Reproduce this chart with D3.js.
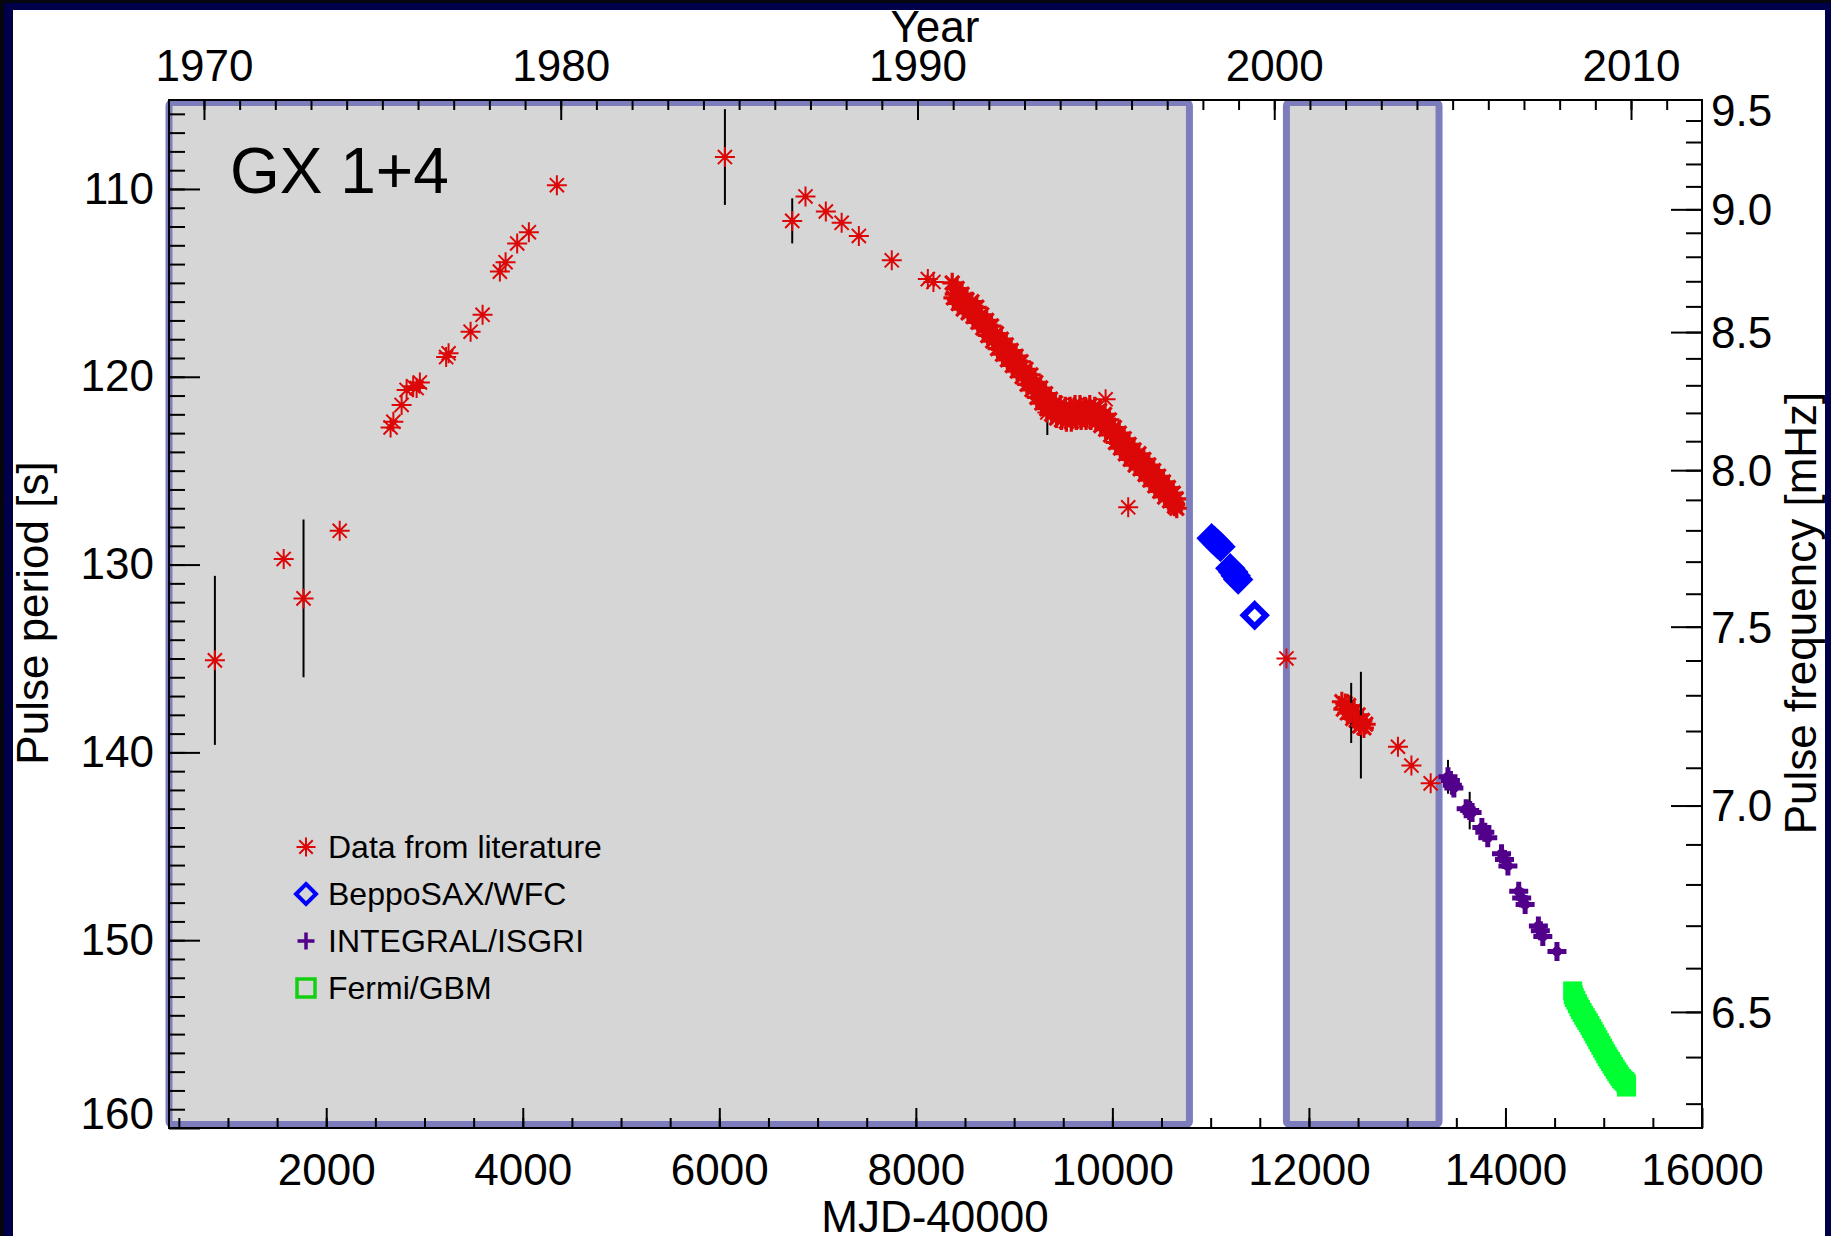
<!DOCTYPE html>
<html>
<head>
<meta charset="utf-8">
<script src="https://cdnjs.cloudflare.com/ajax/libs/d3/7.8.5/d3.min.js"></script>
<style>
body { margin: 0; background: #fff; }
svg { display: block; font-family: "Liberation Sans", Arial, Helvetica, sans-serif; }
</style>
</head>
<body>
<div id="plot"></div>
<script>
// tick values / labels
var periodMajor = [110, 120, 130, 140, 150, 160];
var mjdMajor = [2000, 4000, 6000, 8000, 10000, 12000, 14000, 16000];
var yearMajor = [1970, 1980, 1990, 2000, 2010];
var freqMajor = [9.5, 9.0, 8.5, 8.0, 7.5, 7.0, 6.5];
var legendLabels = ['Data from literature', 'BeppoSAX/WFC', 'INTEGRAL/ISGRI', 'Fermi/GBM'];

// shaded intervals (MJD-40000)
var shadeStart = [400, 11771];
var shadeEnd = [10784, 13324];

// data from literature: [MJD-40000, period (s), error (s)]
var litPoints = [
    [867, 135.1, 4.5], [1567, 129.7, 0], [1769, 131.8, 4.2], [2137, 128.2, 0],
    [2655, 122.7, 0], [2683, 122.4, 0], [2767, 121.5, 0], [2818, 120.7, 0],
    [2885, 120.5, 0], [2953, 120.3, 0], [2920, 120.6, 0], [3220, 118.95, 0], [3245, 118.75, 0],
    [3469, 117.6, 0], [3591, 116.7, 0], [3767, 114.4, 0], [3825, 113.9, 0],
    [3943, 112.9, 0], [4062, 112.3, 0], [4347, 109.8, 0],
    [6057, 108.3, 2.55], [6742, 111.7, 1.2], [6877, 110.4, 0], [7084, 111.2, 0],
    [7245, 111.8, 0], [7420, 112.5, 0], [7755, 113.8, 0], [8122, 114.8, 0], [8179, 114.95, 0],
    [9338, 121.9, 1.2], [9931, 121.2, 0], [10161, 126.95, 0],
    [11771, 135.0, 0], [12906, 139.7, 0], [13043, 140.7, 0], [13239, 141.65, 0]
];

// dense literature monitoring 1991-1997
var litBandUpper = [
    [8370, 115.0], [8420, 115.3], [8470, 115.6], [8520, 115.9], [8570, 116.0], [8620, 116.3],
    [8670, 116.7], [8720, 117.0], [8770, 117.3], [8820, 117.7], [8870, 118.0], [8920, 118.3],
    [8970, 118.6], [9020, 118.9], [9070, 119.2], [9120, 119.6], [9170, 119.9], [9220, 120.3],
    [9270, 120.6], [9320, 120.9], [9370, 121.2], [9420, 121.4], [9470, 121.5], [9520, 121.6],
    [9570, 121.6], [9620, 121.5], [9670, 121.5], [9720, 121.6], [9770, 121.5], [9820, 121.6],
    [9870, 121.8], [9920, 122.0], [9970, 122.3], [10020, 122.7], [10070, 123.0], [10120, 123.3],
    [10170, 123.6], [10220, 123.9], [10270, 124.1], [10320, 124.4], [10370, 124.7], [10420, 125.0],
    [10470, 125.3], [10520, 125.6], [10570, 125.9], [10620, 126.2], [10650, 126.5]
];
var litBandMid = [
    [8395, 115.6], [8445, 115.9], [8495, 116.1], [8545, 116.3], [8595, 116.6], [8645, 116.9],
    [8695, 117.2], [8745, 117.6], [8795, 117.9], [8845, 118.2], [8895, 118.6], [8945, 118.8],
    [8995, 119.2], [9045, 119.5], [9095, 119.8], [9145, 120.1], [9195, 120.5], [9245, 120.8],
    [9295, 121.2], [9345, 121.5], [9395, 121.7], [9445, 121.9], [9495, 122.0], [9545, 122.0],
    [9595, 122.0], [9645, 121.9], [9695, 121.9], [9745, 121.9], [9795, 122.0], [9845, 122.1],
    [9895, 122.3], [9945, 122.6], [9995, 122.9], [10045, 123.2], [10095, 123.5], [10145, 123.9],
    [10195, 124.1], [10245, 124.4], [10295, 124.7], [10345, 125.0], [10395, 125.3], [10445, 125.6],
    [10495, 125.8], [10545, 126.2], [10595, 126.5], [10640, 126.8]
];
var litBandLower = [
    [8382, 115.8], [8432, 116.1], [8482, 116.4], [8532, 116.6], [8582, 116.8], [8632, 117.1],
    [8682, 117.4], [8732, 117.8], [8782, 118.1], [8832, 118.5], [8882, 118.8], [8932, 119.1],
    [8982, 119.4], [9032, 119.7], [9082, 120.0], [9132, 120.4], [9182, 120.7], [9232, 121.1],
    [9282, 121.4], [9332, 121.7], [9382, 122.0], [9432, 122.2], [9482, 122.3], [9532, 122.4],
    [9582, 122.4], [9632, 122.3], [9682, 122.3], [9732, 122.3], [9782, 122.3], [9832, 122.4],
    [9882, 122.6], [9932, 122.8], [9982, 123.1], [10032, 123.5], [10082, 123.8], [10132, 124.1],
    [10182, 124.4], [10232, 124.7], [10282, 124.9], [10332, 125.2], [10382, 125.5], [10432, 125.8],
    [10482, 126.1], [10532, 126.4], [10582, 126.6], [10632, 126.9], [10655, 127.0]
];

// literature cluster 2002
var litCluster = [
    [12335, 137.3, 0], [12350, 137.7, 0], [12370, 137.4, 0], [12390, 137.9, 0], [12405, 137.5, 0],
    [12445, 138.2, 0], [12460, 137.8, 0], [12480, 138.3, 0], [12500, 138.0, 0], [12515, 138.6, 0],
    [12545, 138.3, 0], [12560, 138.7, 0], [12578, 138.5, 0],
    [12430, 137.9, 1.6], [12529, 138.55, 2.84]
];

// BeppoSAX/WFC
var bepposax = [
    [11010, 128.6], [11040, 128.75], [11070, 128.9], [11100, 129.05],
    [11200, 130.2], [11230, 130.4], [11255, 130.6], [11280, 130.8],
    [11448, 132.7]
];

// INTEGRAL/ISGRI: [MJD-40000, period, error]
var integral = [
    [13415, 141.3, 0.9], [13440, 141.5, 0], [13460, 141.75, 0], [13475, 141.9, 0],
    [13600, 143.0, 0], [13636, 143.1, 1.0], [13660, 143.2, 0],
    [13760, 144.0, 0], [13790, 144.25, 0], [13820, 144.55, 0],
    [13960, 145.4, 0], [13990, 145.7, 0], [14025, 146.05, 0],
    [14135, 147.4, 0], [14165, 147.75, 0], [14200, 148.1, 0],
    [14335, 149.25, 0], [14355, 149.5, 0], [14380, 149.8, 0],
    [14524, 150.6, 0]
];

// Fermi/GBM
var fermi = [
    [14684, 152.7], [14690, 152.9], [14700, 153.05], [14716, 153.2], [14732, 153.38], [14748, 153.55],
    [14764, 153.7], [14780, 153.85], [14796, 154.0], [14812, 154.13], [14828, 154.27], [14844, 154.4],
    [14860, 154.55], [14876, 154.7], [14892, 154.85], [14908, 155.0], [14924, 155.15], [14940, 155.3],
    [14956, 155.45], [14972, 155.6], [14988, 155.75], [15004, 155.9], [15020, 156.05], [15036, 156.2],
    [15052, 156.33], [15068, 156.46], [15084, 156.6], [15100, 156.73], [15116, 156.87], [15132, 157.0],
    [15148, 157.13], [15164, 157.25], [15180, 157.37], [15196, 157.45], [15212, 157.52], [15226, 157.6],
    [15230, 157.7], [15233, 157.82]
];

var red = '#dc0808', blue = '#0000ff', purple = '#52008c', green = '#00ff33';

var width = 1831, height = 1236;
var plot = { l: 169, r: 1702, t: 100, b: 1128 };

var svg = d3.select('#plot')
    .append('svg')
    .attr('width', width)
    .attr('height', height);

svg.append('rect').attr('width', width).attr('height', height).attr('fill', '#fff');

var x = d3.scaleLinear().domain([400, 16000]).range([plot.l, plot.r]);
var y = d3.scaleLinear().domain([160, 1000 / 9.5]).range([plot.b, plot.t]);
var yr = d3.scaleLinear().domain([1969.02, 2011.99]).range([plot.l, plot.r]);

// shaded intervals
svg.selectAll('.shade')
    .data(shadeStart)
    .enter()
    .append('rect')
    .attr('class', 'shade')
    .attr('x', function (d) { return x(d); })
    .attr('y', plot.t + 2.5)
    .attr('width', function (d, i) { return x(shadeEnd[i]) - x(d); })
    .attr('height', plot.b - plot.t - 6)
    .attr('rx', 3)
    .attr('fill', '#d6d6d6')
    .attr('stroke', '#7d7dbd')
    .attr('stroke-width', 7);

// axes
function styleAxis(g) {
    g.select('.domain').remove();
    g.attr('font-size', 44).attr('font-family', null);
    g.selectAll('.tick line').attr('stroke', '#000').attr('stroke-width', 2);
    g.selectAll('.tick text').attr('fill', '#000');
}

var gLeftMinor = svg.append('g').attr('transform', 'translate(' + plot.l + ',0)')
    .call(d3.axisLeft(y).tickValues(d3.range(106, 160)).tickSize(-16).tickFormat(''));
styleAxis(gLeftMinor);
var gLeft = svg.append('g').attr('transform', 'translate(' + plot.l + ',0)')
    .call(d3.axisLeft(y).tickValues(periodMajor).tickSize(-31).tickPadding(15));
styleAxis(gLeft);
gLeft.selectAll('.tick text').filter(function (d) { return d === 160; }).attr('y', -14);

var gBottomMinor = svg.append('g').attr('transform', 'translate(0,' + plot.b + ')')
    .call(d3.axisBottom(x).tickValues(d3.range(500, 16000, 500)).tickSize(-10).tickFormat(''));
styleAxis(gBottomMinor);
var gBottom = svg.append('g').attr('transform', 'translate(0,' + plot.b + ')')
    .call(d3.axisBottom(x).tickValues(mjdMajor).tickSize(-20).tickPadding(26).tickFormat(d3.format('d')));
styleAxis(gBottom);

var gTopMinor = svg.append('g').attr('transform', 'translate(0,' + plot.t + ')')
    .call(d3.axisTop(yr).tickValues(d3.range(1970, 2012)).tickSize(-10).tickFormat(''));
styleAxis(gTopMinor);
var gTop = svg.append('g').attr('transform', 'translate(0,' + plot.t + ')')
    .call(d3.axisTop(yr).tickValues(yearMajor).tickSize(-20).tickPadding(19).tickFormat(d3.format('d')));
styleAxis(gTop);

// right axis: pulse frequency (mHz), period = 1000 / f
var gRight = svg.append('g');
gRight.selectAll('.minor')
    .data(d3.range(63, 95).map(function (v) { return v / 10; }))
    .enter()
    .append('line')
    .attr('x1', plot.r).attr('x2', plot.r - 16)
    .attr('y1', function (d) { return y(1000 / d); })
    .attr('y2', function (d) { return y(1000 / d); })
    .attr('stroke', '#000').attr('stroke-width', 2);
gRight.selectAll('.major')
    .data(freqMajor)
    .enter()
    .append('line')
    .attr('x1', plot.r).attr('x2', plot.r - 31)
    .attr('y1', function (d) { return y(1000 / d); })
    .attr('y2', function (d) { return y(1000 / d); })
    .attr('stroke', '#000').attr('stroke-width', 2);
gRight.selectAll('text')
    .data(freqMajor)
    .enter()
    .append('text')
    .attr('x', plot.r + 9)
    .attr('y', function (d) { return Math.max(y(1000 / d), plot.t + 11); })
    .attr('dy', '0.35em')
    .attr('font-size', 44)
    .text(d3.format('.1f'));

// frame
svg.append('rect')
    .attr('x', plot.l).attr('y', plot.t)
    .attr('width', plot.r - plot.l).attr('height', plot.b - plot.t)
    .attr('fill', 'none').attr('stroke', '#000').attr('stroke-width', 2);

// axis titles
svg.append('text').attr('x', 935).attr('y', 42).attr('text-anchor', 'middle')
    .attr('font-size', 44).text('Year');
svg.append('text').attr('x', 935).attr('y', 1232).attr('text-anchor', 'middle')
    .attr('font-size', 44).text('MJD-40000');
svg.append('text').attr('transform', 'translate(48,613) rotate(-90)').attr('text-anchor', 'middle')
    .attr('font-size', 44).text('Pulse period [s]');
svg.append('text').attr('transform', 'translate(1816,613) rotate(-90)').attr('text-anchor', 'middle')
    .attr('font-size', 44).text('Pulse frequency [mHz]');

svg.append('text').attr('x', 230).attr('y', 193).attr('font-size', 64).text('GX 1+4');

// symbols
function asterisk(r) {
    var a = r * 0.7071;
    return 'M' + (-r) + ',0H' + r + 'M0,' + (-r) + 'V' + r +
        'M' + (-a) + ',' + (-a) + 'L' + a + ',' + a +
        'M' + (-a) + ',' + a + 'L' + a + ',' + (-a);
}
function plus(r) {
    return 'M' + (-r) + ',0H' + r + 'M0,' + (-r) + 'V' + r;
}
function diamond(r) {
    return 'M0,' + (-r) + 'L' + r + ',0L0,' + r + 'L' + (-r) + ',0Z';
}

function drawPoints(data, path, color, sw, fill) {
    var g = svg.append('g');
    var pt = g.selectAll('g')
        .data(data)
        .enter()
        .append('g');
    pt.filter(function (d) { return d[2] > 0; })
        .append('line')
        .attr('x1', function (d) { return x(d[0]); })
        .attr('x2', function (d) { return x(d[0]); })
        .attr('y1', function (d) { return y(d[1] - d[2]); })
        .attr('y2', function (d) { return y(d[1] + d[2]); })
        .attr('stroke', '#000')
        .attr('stroke-width', 2);
    pt.append('path')
        .attr('transform', function (d) { return 'translate(' + x(d[0]) + ',' + y(d[1]) + ')'; })
        .attr('d', path)
        .attr('fill', fill || 'none')
        .attr('stroke', color)
        .attr('stroke-width', sw);
    pt.filter(function () { return path.charAt(path.length - 1) !== 'Z'; })
        .append('circle')
        .attr('cx', function (d) { return x(d[0]); })
        .attr('cy', function (d) { return y(d[1]); })
        .attr('r', sw)
        .attr('fill', color);
}

drawPoints(litPoints.slice(0, 29), asterisk(10), red, 2);
drawPoints(litPoints.slice(29, 30), asterisk(10), red, 2);
drawPoints(litBandUpper, asterisk(10), red, 3.2);
drawPoints(litBandLower, asterisk(10), red, 3.2);
drawPoints(litBandMid, asterisk(10), red, 3.2);
drawPoints(litPoints.slice(30), asterisk(10), red, 2);
drawPoints(litCluster, asterisk(10), red, 3);
drawPoints(bepposax, diamond(11), blue, 6);
drawPoints(integral, plus(9.5), purple, 5);

svg.append('g').selectAll('rect')
    .data(fermi)
    .enter()
    .append('rect')
    .attr('x', function (d) { return x(d[0]) - 9.5; })
    .attr('y', function (d) { return y(d[1]) - 9.5; })
    .attr('width', 19).attr('height', 19)
    .attr('fill', green);

// legend
var legendY = [847, 894, 941, 988];
var legend = svg.append('g');
legend.append('path').attr('transform', 'translate(306,' + legendY[0] + ')')
    .attr('d', asterisk(9.5)).attr('stroke', red).attr('stroke-width', 2).attr('fill', 'none');
legend.append('circle').attr('cx', 306).attr('cy', legendY[0]).attr('r', 2).attr('fill', red);
legend.append('path').attr('transform', 'translate(306,' + legendY[1] + ')')
    .attr('d', diamond(10)).attr('stroke', blue).attr('stroke-width', 4).attr('fill', 'none');
legend.append('path').attr('transform', 'translate(306,' + legendY[2] + ')')
    .attr('d', plus(8.5)).attr('stroke', purple).attr('stroke-width', 3.5).attr('fill', 'none');
legend.append('rect').attr('x', 297).attr('y', legendY[3] - 9).attr('width', 18).attr('height', 18)
    .attr('stroke', '#10d010').attr('stroke-width', 3.5).attr('fill', 'none');
legend.selectAll('text')
    .data(legendLabels)
    .enter()
    .append('text')
    .attr('x', 328)
    .attr('y', function (d, i) { return legendY[i] + 11; })
    .attr('font-size', 32)
    .text(function (d) { return d; });

// outer navy border
var border = svg.append('g');
border.append('rect').attr('x', 0).attr('y', 0).attr('width', width).attr('height', 10).attr('fill', '#00004a');
border.append('rect').attr('x', 0).attr('y', 0).attr('width', 13).attr('height', height).attr('fill', '#00004a');
border.append('rect').attr('x', 1825).attr('y', 0).attr('width', 6).attr('height', height).attr('fill', '#00004a');
border.append('rect').attr('x', 0).attr('y', 0).attr('width', 4).attr('height', height).attr('fill', '#06060f');
border.append('rect').attr('x', 0).attr('y', 0).attr('width', width).attr('height', 3).attr('fill', '#06060f');
</script>
</body>
</html>
